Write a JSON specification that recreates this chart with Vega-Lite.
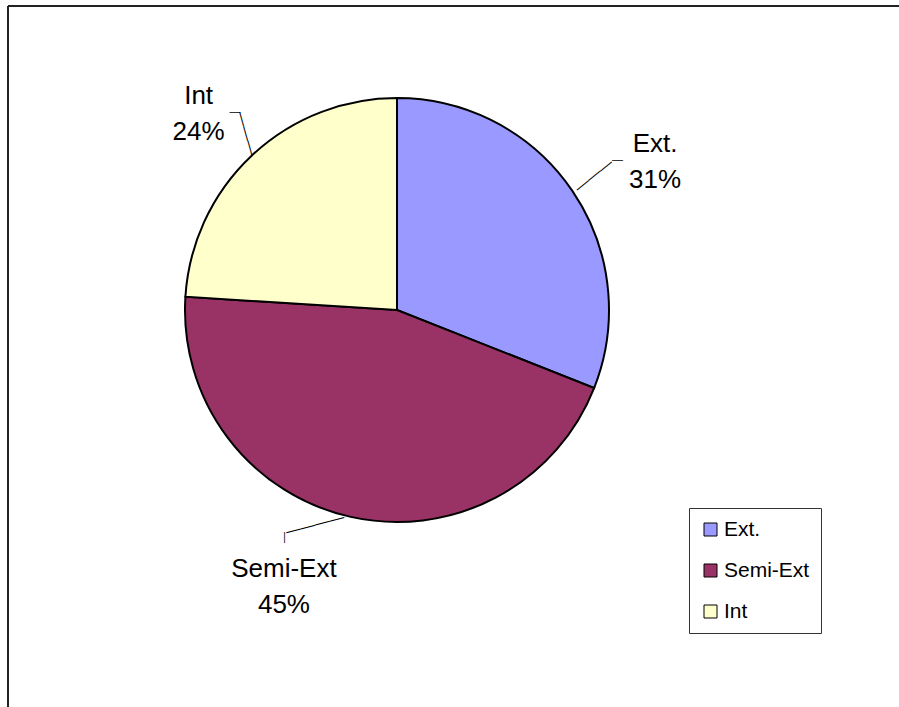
{
  "$schema": "https://vega.github.io/schema/vega-lite/v6.json",
  "width": 891,
  "height": 701,
  "autosize": "none",
  "padding": {"left": 8, "top": 6, "right": 0, "bottom": 0},
  "background": "white",
  "view": {"stroke": null},
  "config": {
    "text": {"font": "Liberation Sans"}
  },
  "data": {
    "values": [
      {"category": "Ext.", "value": 0.31, "rank": 1},
      {"category": "Semi-Ext", "value": 0.45, "rank": 2},
      {"category": "Int", "value": 0.24, "rank": 3}
    ]
  },
  "layer": [
    {
      "transform": [{"filter": "datum.rank === 1"}],
      "mark": {"type": "rule", "stroke": "#222222", "strokeWidth": 2},
      "encoding": {"x": {"value": 0}, "y": {"value": 0}, "y2": {"value": "height"}}
    },
    {
      "transform": [{"filter": "datum.rank === 1"}],
      "mark": {"type": "rule", "stroke": "#222222", "strokeWidth": 2},
      "encoding": {"y": {"value": 0}, "x": {"value": 0}, "x2": {"value": "width"}}
    },
    {
      "mark": {"type": "arc", "radius": 212, "x": 389, "y": 304, "stroke": "black", "strokeWidth": 2},
      "encoding": {
        "theta": {"field": "value", "type": "quantitative", "stack": true},
        "order": {"field": "rank", "type": "quantitative"},
        "color": {
          "field": "category",
          "type": "nominal",
          "sort": ["Ext.", "Semi-Ext", "Int"],
          "scale": {"domain": ["Ext.", "Semi-Ext", "Int"], "range": ["#9999FF", "#993366", "#FFFFCC"]},
          "legend": {
            "orient": "none",
            "legendX": 681,
            "legendY": 502,
            "title": null,
            "direction": "vertical",
            "symbolType": "square",
            "symbolSize": 169,
            "symbolStrokeColor": "black",
            "symbolStrokeWidth": 1,
            "symbolOpacity": 1,
            "labelFont": "Liberation Sans",
            "labelFontSize": 21,
            "labelColor": "black",
            "labelOffset": 3,
            "rowPadding": 19,
            "padding": 11,
            "strokeColor": "#333333",
            "fillColor": "white"
          }
        }
      }
    },
    {
      "mark": {
        "type": "text", "radius": 300, "x": 389, "y": 304, "fontSize": 26,
        "align": "center", "baseline": "alphabetic", "color": "black",
        "dx": {"expr": "datum.category === 'Ext.' ? 10 : datum.category === 'Semi-Ext' ? -47.6 : 7"},
        "dy": {"expr": "datum.category === 'Ext.' ? 10.6 : datum.category === 'Semi-Ext' ? -25.8 : 12.4"}
      },
      "encoding": {
        "theta": {"field": "value", "type": "quantitative", "stack": true},
        "order": {"field": "rank", "type": "quantitative"},
        "detail": {"field": "category", "type": "nominal"},
        "text": {"field": "category", "type": "nominal"}
      }
    },
    {
      "mark": {
        "type": "text", "radius": 300, "x": 389, "y": 304, "fontSize": 26,
        "align": "center", "baseline": "alphabetic", "color": "black",
        "dx": {"expr": "datum.category === 'Ext.' ? 10 : datum.category === 'Semi-Ext' ? -47.6 : 7"},
        "dy": {"expr": "datum.category === 'Ext.' ? 46.6 : datum.category === 'Semi-Ext' ? 10.2 : 48.4"}
      },
      "encoding": {
        "theta": {"field": "value", "type": "quantitative", "stack": true},
        "order": {"field": "rank", "type": "quantitative"},
        "detail": {"field": "category", "type": "nominal"},
        "text": {"field": "value", "type": "quantitative", "format": ".0%"}
      }
    },
    {
      "mark": {
        "type": "text", "radius": 230, "x": 389, "y": 304, "fontSize": 15,
        "align": "center", "baseline": "middle", "color": "black",
        "angle": {"expr": "datum.category === 'Ext.' ? 321 : datum.category === 'Semi-Ext' ? 345 : 74.4"},
        "dx": {"expr": "datum.category === 'Ext.' ? 8.5 : datum.category === 'Semi-Ext' ? -28 : -6.5"},
        "dy": {"expr": "datum.category === 'Ext.' ? -0.5 : datum.category === 'Semi-Ext' ? -18.4 : -9.5"}
      },
      "encoding": {
        "theta": {"field": "value", "type": "quantitative", "stack": true},
        "order": {"field": "rank", "type": "quantitative"},
        "detail": {"field": "category", "type": "nominal"},
        "text": {"condition": {"test": "datum.category === 'Semi-Ext'", "value": "————"}, "value": "———"}
      }
    },
    {
      "mark": {
        "type": "text", "radius": 230, "x": 389, "y": 304, "fontSize": 11,
        "align": "center", "baseline": "middle", "color": "black",
        "angle": {"expr": "datum.category === 'Semi-Ext' ? 90 : 0"},
        "dx": {"expr": "datum.category === 'Ext.' ? 30.3 : datum.category === 'Semi-Ext' ? 3 : -4.6"},
        "dy": {"expr": "datum.category === 'Ext.' ? -20.7 : datum.category === 'Semi-Ext' ? 61.8 : -30.3"}
      },
      "encoding": {
        "theta": {"field": "value", "type": "quantitative", "stack": true},
        "order": {"field": "rank", "type": "quantitative"},
        "detail": {"field": "category", "type": "nominal"},
        "text": {"value": "—"}
      }
    }
  ]
}
